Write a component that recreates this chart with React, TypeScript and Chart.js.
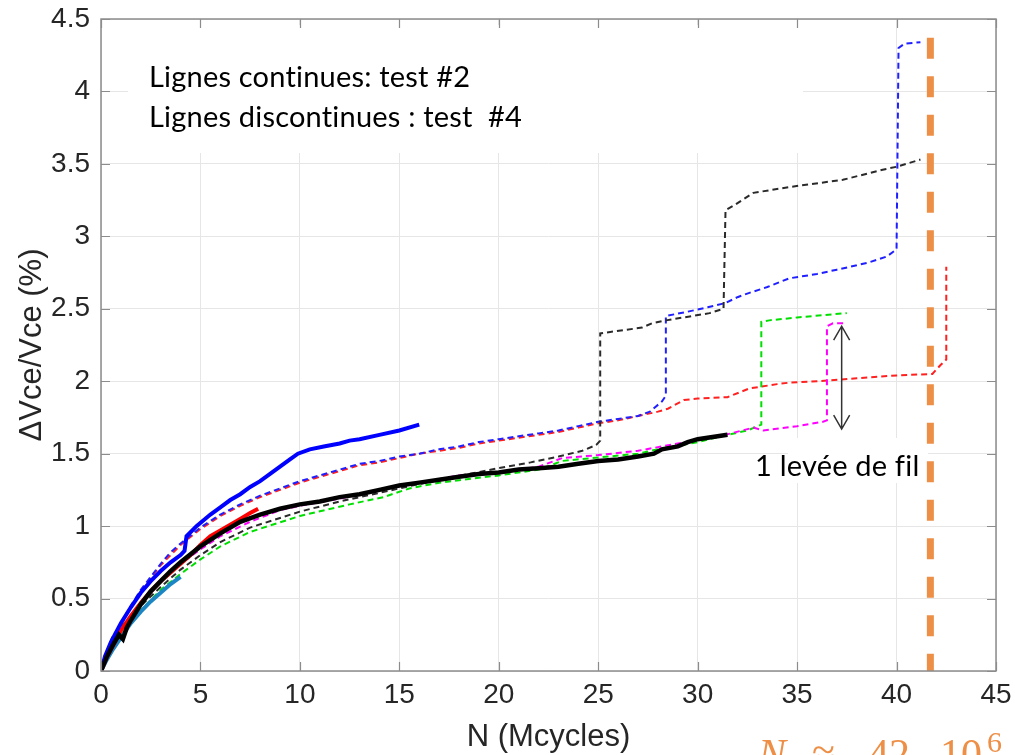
import { useEffect, useRef } from "react";
import { Chart, registerables } from "chart.js";
Chart.register(...registerables);

type P = [number, number];

const xTickValues = [0, 5, 10, 15, 20, 25, 30, 35, 40, 45];
const yTickValues = [0, 0.5, 1, 1.5, 2, 2.5, 3, 3.5, 4, 4.5];

// Test #2 (solid lines)
const blueSolid: P[] = [[0,0],[0.2,0.1],[0.5,0.2],[1,0.33],[1.5,0.44],[2,0.54],[2.5,0.62],[3,0.69],[3.5,0.75],[4,0.8],[4.2,0.83],[4.3,0.93],[4.8,1.0],[5.5,1.08],[6,1.13],[6.5,1.18],[7,1.22],[7.5,1.27],[8,1.31],[8.5,1.36],[9,1.41],[9.5,1.46],[9.9,1.5],[10.5,1.53],[11.2,1.55],[12,1.57],[12.5,1.59],[13,1.6],[14,1.63],[15,1.66],[16,1.7]];
const redSolid: P[] = [[0,0],[0.3,0.1],[0.7,0.2],[1,0.28],[1.5,0.38],[2,0.47],[2.5,0.55],[3,0.62],[3.5,0.68],[4,0.74],[4.5,0.8],[5,0.87],[5.5,0.93],[6,0.97],[6.5,1.01],[7,1.05],[7.5,1.09],[7.9,1.12]];
const tealSolid: P[] = [[0,0],[0.3,0.08],[0.6,0.15],[1,0.23],[1.5,0.33],[2,0.41],[2.5,0.48],[3,0.54],[3.5,0.6],[4,0.65]];
const blackSolid: P[] = [[0,0],[0.3,0.1],[0.6,0.18],[0.9,0.25],[1.1,0.22],[1.3,0.3],[1.5,0.35],[2,0.46],[2.5,0.55],[3,0.62],[3.5,0.69],[4,0.75],[5,0.86],[6,0.95],[7,1.03],[8,1.08],[9,1.12],[10,1.15],[11,1.17],[12,1.2],[13,1.22],[14,1.25],[15,1.28],[16,1.3],[17,1.32],[18,1.34],[19,1.36],[20,1.37],[21,1.39],[22,1.4],[23,1.41],[24,1.43],[25,1.45],[26,1.46],[27,1.48],[27.8,1.5],[28.2,1.53],[29,1.55],[29.5,1.58],[30,1.6],[31,1.62],[31.5,1.63]];

// Test #4 (dashed lines)
const blueDashed: P[] = [[0,0],[0.3,0.13],[0.6,0.22],[1,0.33],[1.5,0.45],[2,0.56],[2.5,0.65],[3,0.74],[3.5,0.82],[4,0.88],[5,0.99],[6,1.08],[7,1.15],[8,1.21],[9,1.26],[10,1.31],[11,1.35],[12,1.39],[13,1.43],[14,1.45],[15,1.48],[16,1.5],[17,1.53],[18,1.55],[19,1.58],[20,1.6],[21,1.62],[22,1.64],[23,1.66],[24,1.69],[25,1.72],[26,1.74],[27,1.76],[27.6,1.79],[28.2,1.86],[28.4,1.9],[28.4,2.45],[29.5,2.48],[30.5,2.51],[31.4,2.54],[32,2.58],[32.6,2.61],[33.5,2.65],[34.6,2.71],[36,2.74],[37,2.77],[38,2.8],[38.6,2.82],[39.5,2.86],[40,2.91],[40.1,4.3],[40.4,4.33],[41.2,4.34]];
const redDashed: P[] = [[0,0],[0.3,0.12],[0.6,0.21],[1,0.32],[1.5,0.44],[2,0.55],[2.5,0.64],[3,0.73],[3.5,0.8],[4,0.87],[5,0.98],[6,1.07],[7,1.14],[8,1.2],[9,1.25],[10,1.3],[11,1.34],[12,1.38],[13,1.42],[14,1.44],[15,1.47],[16,1.5],[17,1.52],[18,1.54],[19,1.57],[20,1.59],[21,1.61],[22,1.63],[23,1.65],[24,1.68],[25,1.71],[26,1.73],[27,1.76],[28,1.79],[28.5,1.81],[29.3,1.87],[30,1.88],[31.5,1.89],[32.6,1.95],[34,1.98],[34.6,1.99],[36,2.0],[38,2.02],[40,2.04],[41.8,2.05],[42.2,2.11],[42.5,2.15],[42.5,2.79]];
const blackDashed: P[] = [[0,0],[0.3,0.12],[0.6,0.25],[1,0.3],[1.5,0.38],[2,0.45],[3,0.58],[4,0.7],[5,0.8],[6,0.89],[7.5,0.99],[10,1.1],[12,1.17],[14,1.23],[16,1.29],[18.5,1.36],[20,1.4],[21.6,1.44],[23,1.48],[24.2,1.52],[24.9,1.56],[25.1,1.59],[25.1,2.33],[25.6,2.34],[27.2,2.37],[27.7,2.4],[28.4,2.42],[30.6,2.47],[31.3,2.5],[31.4,3.18],[31.9,3.22],[32.8,3.3],[34.6,3.34],[37.3,3.39],[39.3,3.46],[40,3.48],[41.2,3.53]];
const greenDashed: P[] = [[0,0],[0.5,0.13],[1,0.25],[2,0.42],[3,0.56],[4,0.67],[5,0.77],[6,0.86],[7.5,0.96],[10,1.07],[12.5,1.15],[14.2,1.2],[15.5,1.26],[17,1.3],[20,1.35],[22,1.39],[23.2,1.45],[25.5,1.48],[27,1.5],[28,1.53],[30,1.58],[31.5,1.63],[32.5,1.66],[33.2,1.7],[33.2,2.41],[33.6,2.42],[35,2.44],[37.5,2.47]];
const magentaDashed: P[] = [[0,0],[0.5,0.15],[1,0.28],[2,0.47],[3,0.62],[4,0.74],[5,0.84],[6,0.93],[7.5,1.03],[9,1.11],[10,1.14],[12,1.19],[14,1.25],[16,1.3],[18,1.35],[20,1.37],[22,1.41],[23.2,1.47],[25,1.49],[27,1.52],[29,1.57],[31.4,1.63],[32.8,1.68],[33.3,1.66],[35,1.69],[36.3,1.72],[36.5,1.73],[36.5,2.38],[36.8,2.4],[37.4,2.4]];

// Failure line (orange) and wire lift-off arrow
const failureLine: P[] = [[41.7,4.37],[41.7,0]];
const arrowX = 37.24;
const arrowYs = [1.67, 2.38];

const legendLines = ["Lignes continues: test #2", "Lignes discontinues : test  #4"];
const arrowLabel = "1 levée de fil";
const xTitle = "N (Mcycles)";
const yTitle = "ΔVce/Vce (%)";

export default function App() {
  const ref = useRef<HTMLCanvasElement>(null);
  useEffect(() => {
    const canvas = ref.current!;
    const pts = (a: P[]) => a.map(([x, y]) => ({ x, y }));
    const line = (data: P[], color: string, width: number, dash: number[] = []) => ({
      data: pts(data),
      borderColor: color,
      backgroundColor: color,
      borderWidth: width,
      borderDash: dash,
      pointRadius: 0,
      showLine: true,
      fill: false,
      tension: 0,
    });
    const dash = [6, 4];
    const datasets: any[] = [
      { ...line(failureLine, "#EE8F47", 7, [21, 17.5]), borderCapStyle: "butt" },
      line(blackSolid, "#000000", 4.5),
      line(blueSolid, "#0000FF", 4),
      line(redSolid, "#FF0000", 4),
      line(tealSolid, "#1C86C4", 4),
      line(magentaDashed, "#FF00FF", 2, dash),
      line(greenDashed, "#00E000", 2, dash),
      line(blackDashed, "#2a2a2a", 2, dash),
      line(blueDashed, "#2020FF", 2, dash),
      line(redDashed, "#FF2020", 2, dash),
    ];

    const tickFont = { family: "'Liberation Sans', Arial, sans-serif", size: 28 };

    const overlay = {
      id: "overlay",
      beforeDatasetsDraw(chart: any) {
        const ctx = chart.ctx as CanvasRenderingContext2D;
        ctx.save();
        ctx.fillStyle = "#ffffff";
        ctx.fillRect(128, 25, 675, 128);
        ctx.fillRect(788, 438, 140, 45);
        ctx.fillStyle = "#000000";
        ctx.font = "29px Lato, 'Open Sans', sans-serif";
        (ctx as any).letterSpacing = "0.2px";
        ctx.textBaseline = "alphabetic";
        ctx.textAlign = "left";
        ctx.fillText(legendLines[0], 149, 87);
        ctx.fillText(legendLines[1], 149, 127);
        ctx.fillText(arrowLabel, 755, 476);
        ctx.restore();
      },
      afterDraw(chart: any) {
        const ctx = chart.ctx as CanvasRenderingContext2D;
        const { left, right, top, bottom } = chart.chartArea;
        const xs = chart.scales.x;
        const ys = chart.scales.y;
        ctx.save();
        // frame
        ctx.strokeStyle = "#8c8c8c";
        ctx.lineWidth = 1.5;
        ctx.strokeRect(left, top, right - left, bottom - top);
        // inward ticks
        ctx.beginPath();
        const tl = 9;
        xTickValues.forEach((v) => {
          const px = Math.round(xs.getPixelForValue(v)) + 0.5;
          ctx.moveTo(px, bottom);
          ctx.lineTo(px, bottom - tl);
          ctx.moveTo(px, top);
          ctx.lineTo(px, top + tl);
        });
        yTickValues.forEach((v) => {
          const py = Math.round(ys.getPixelForValue(v)) + 0.5;
          ctx.moveTo(left, py);
          ctx.lineTo(left + tl, py);
          ctx.moveTo(right, py);
          ctx.lineTo(right - tl, py);
        });
        ctx.lineWidth = 1.2;
        ctx.stroke();

        // double arrow
        const ax = xs.getPixelForValue(arrowX);
        const ay0 = ys.getPixelForValue(arrowYs[0]);
        const ay1 = ys.getPixelForValue(arrowYs[1]);
        ctx.strokeStyle = "#333333";
        ctx.lineWidth = 1.5;
        ctx.beginPath();
        ctx.moveTo(ax, ay0);
        ctx.lineTo(ax, ay1);
        ctx.moveTo(ax - 8, ay1 + 14);
        ctx.lineTo(ax, ay1);
        ctx.lineTo(ax + 8, ay1 + 14);
        ctx.moveTo(ax - 8, ay0 - 14);
        ctx.lineTo(ax, ay0);
        ctx.lineTo(ax + 8, ay0 - 14);
        ctx.stroke();

        // axis titles
        ctx.fillStyle = "#262626";
        ctx.font = "31px 'Liberation Sans', Arial, sans-serif";
        ctx.textAlign = "center";
        ctx.textBaseline = "middle";
        ctx.fillText(xTitle, (left + right) / 2, 737);
        ctx.save();
        ctx.translate(32, (top + bottom) / 2);
        ctx.rotate(-Math.PI / 2);
        ctx.fillText(yTitle, 0, 0);
        ctx.restore();

        // Nf formula (cropped at the bottom)
        ctx.fillStyle = "#EE8F47";
        ctx.textAlign = "left";
        ctx.textBaseline = "alphabetic";
        ctx.font = "italic 42px 'Liberation Serif', 'DejaVu Serif', serif";
        ctx.fillText("N", 758, 768);
        ctx.font = "42px 'Liberation Serif', 'DejaVu Serif', serif";
        ctx.fillText("≈", 812, 768);
        ctx.fillText("42.", 868, 768);
        ctx.fillText("10", 940, 768);
        ctx.font = "30px 'Liberation Serif', 'DejaVu Serif', serif";
        ctx.fillText("6", 987, 752);
        ctx.restore();
      },
    };

    const chart = new Chart(canvas, {
      type: "scatter",
      data: { datasets },
      options: {
        responsive: false,
        animation: false,
        layout: { padding: { top: 19, right: 19, left: 0, bottom: 0 } },
        plugins: { legend: { display: false }, tooltip: { enabled: false } },
        scales: {
          x: {
            type: "linear",
            min: 0,
            max: 45,
            ticks: { stepSize: 5, font: tickFont, color: "#262626", padding: 7, maxRotation: 0 },
            grid: { color: "#e6e6e6", lineWidth: 1, drawTicks: false },
            border: { display: false },
            afterFit: (s: any) => { s.height = 84; s.paddingLeft = 0; s.paddingRight = 0; },
          },
          y: {
            type: "linear",
            min: 0,
            max: 4.5,
            ticks: { stepSize: 0.5, font: tickFont, color: "#262626", padding: 11, callback: (v: any) => String(v) },
            grid: { color: "#e6e6e6", lineWidth: 1, drawTicks: false },
            border: { display: false },
            afterFit: (s: any) => { s.width = 101; s.paddingTop = 0; s.paddingBottom = 0; },
          },
        },
      },
      plugins: [overlay],
    });
    return () => chart.destroy();
  }, []);
  return (
    <div style={{ position: "fixed", left: 0, top: 0, width: 1015, height: 755, background: "#ffffff", overflow: "hidden" }}>
      <canvas ref={ref} width={1015} height={755} style={{ display: "block" }} />
    </div>
  );
}
